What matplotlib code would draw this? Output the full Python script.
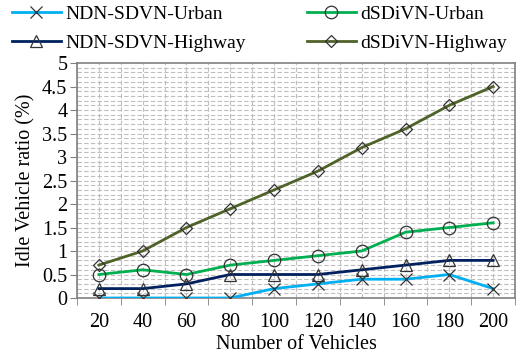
import matplotlib
matplotlib.use("Agg")
import matplotlib.pyplot as plt
import numpy as np

vehicles = [20, 40, 60, 80, 100, 120, 140, 160, 180, 200]
ndn_urban = [0, 0, 0, 0, 0.2, 0.3, 0.4, 0.4, 0.5, 0.2]
dsdivn_urban = [0.5, 0.6, 0.5, 0.7, 0.8, 0.9, 1.0, 1.4, 1.5, 1.6]
ndn_highway = [0.2, 0.2, 0.3, 0.5, 0.5, 0.5, 0.6, 0.7, 0.8, 0.8]
dsdivn_highway = [0.7, 1.0, 1.5, 1.9, 2.3, 2.7, 3.2, 3.6, 4.1, 4.5]

plt.rcParams['font.family'] = ['Liberation Serif', 'DejaVu Serif']
FS = 14.5
LFS = 14

fig = plt.figure(figsize=(5.22, 3.58), dpi=100)
ax = fig.add_axes([0.1475, 0.1676, 0.8391, 0.6564])

x = np.arange(len(vehicles))
series = [
    ("NDN-SDVN-Urban", ndn_urban, "#00B0F0", "x"),
    ("dSDiVN-Urban", dsdivn_urban, "#00B050", "o"),
    ("NDN-SDVN-Highway", ndn_highway, "#002060", "^"),
    ("dSDiVN-Highway", dsdivn_highway, "#4F6228", "D"),
]
handles = {}
for name, vals, col, mk in series:
    ms = 9 if mk != "D" else 6
    h, = ax.plot(x, vals, color=col, lw=2, marker=mk, markersize=ms,
                 markerfacecolor='none', markeredgecolor='#333333',
                 markeredgewidth=0.9, label=name, zorder=3)
    handles[name] = h

ax.set_xlim(-0.5, len(vehicles) - 0.5)
ax.set_ylim(0, 5)
ax.set_yticks(np.arange(0, 5.01, 0.5))
ax.set_yticklabels(["0", "0.5", "1", "1.5", "2", "2.5", "3", "3.5", "4", "4.5", "5"])
ax.set_xticks(x)
ax.set_xticklabels([str(v) for v in vehicles])
ax.set_xticks(np.arange(-0.5, len(vehicles), 1), minor=True)

# grid
for yv in np.arange(0.1, 5.0, 0.1):
    ax.axhline(yv, color='#BFBFBF', lw=0.8, ls=(0, (4, 2)), zorder=1)
for xv in np.arange(-0.5, len(vehicles) - 0.4, 0.5):
    ax.axvline(xv, color='#BFBFBF', lw=0.8, ls=(0, (4, 2)), zorder=1)

ax.tick_params(axis='x', which='major', length=0, labelsize=FS, pad=11)
ax.tick_params(axis='x', which='minor', length=5, direction='out', color='#808080')
ax.tick_params(axis='y', which='major', length=5, direction='out', color='#808080', labelsize=FS, pad=2)
ax.tick_params(axis='y', which='minor', length=0)

for s in ax.spines.values():
    s.set_color('#808080')
    s.set_linewidth(1.2)

ax.set_xlabel("Number of Vehicles", fontsize=FS, labelpad=2)
ax.set_ylabel("Idle Vehicle ratio (%)", fontsize=FS, labelpad=5)

leg_kw = dict(frameon=False, fontsize=LFS, handlelength=2.5,
              handletextpad=0.25, labelspacing=0.62, borderpad=0, borderaxespad=0)
leg1 = fig.legend(handles=[handles["NDN-SDVN-Urban"], handles["NDN-SDVN-Highway"]],
                  loc='upper left', bbox_to_anchor=(12 / 522, 1 - 5 / 358), **leg_kw)
leg2 = fig.legend(handles=[handles["dSDiVN-Urban"], handles["dSDiVN-Highway"]],
                  loc='upper left', bbox_to_anchor=(307 / 522, 1 - 5 / 358), **leg_kw)

fig.savefig("out.png", dpi=100)
